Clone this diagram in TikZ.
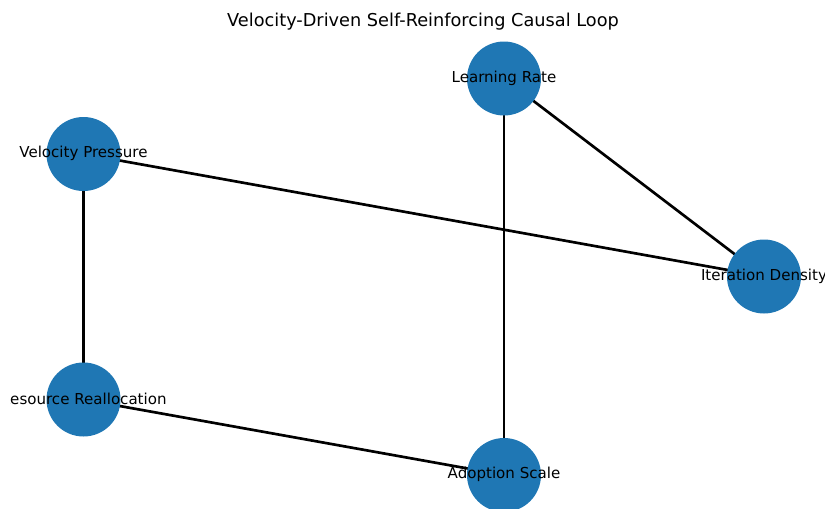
\documentclass[tikz,border=0pt]{standalone}
\usepackage{fontspec}
\setmainfont{DejaVu Sans}
\usetikzlibrary{backgrounds}
\definecolor{tabblue}{HTML}{1F77B4}
\tikzset{
  dot/.style={circle, fill=tabblue, minimum size=55.5pt, inner sep=0pt},
  lbl/.style={inner sep=0pt, text=black, font=\fontsize{11.3}{13}\selectfont},
  edge/.style={line width=2pt, black}
}

\begin{document}
\begin{tikzpicture}[x=0.75pt, y=-0.75pt]
	  \useasboundingbox (0, 0) rectangle (825, 508);
	  \clip (0, 0) rectangle (825, 508);
	  \node[lbl, font=\fontsize{13.3}{15}\selectfont] (title) at (423, 22)
	  {Velocity-Driven Self-Reinforcing Causal Loop};
	  % nodes
	  \node[dot] (lr) at (504, 78.5) {};
	  \node[dot] (vp) at (83.5, 154) {};
	  \node[dot] (id) at (764, 276.5) {};
	  \node[dot] (rr) at (83.5, 399.5) {};
	  \node[dot] (as) at (504, 475) {};
	  \begin{scope}
		\clip (10.5, 0) rectangle (825, 508);
		\node[lbl] (lrt) at (504, 78) {Learning Rate};
		\node[lbl] (vpt) at (83.5, 153.5) {Velocity Pressure};
		\node[lbl] (idt) at (764, 276) {Iteration Density};
		\node[lbl] (rrt) at (83.5, 399) {Resource Reallocation};
		\node[lbl] (ast) at (504, 474.5) {Adoption Scale};
	  \end{scope}
	  % links
	  \begin{scope}[on background layer]
		\draw[edge] (vp.center) -- (id.center);
		\draw[edge] (lr.center) -- (id.center);
		\draw[edge] (lr.center) -- (as.center);
		\draw[edge] (vp.center) -- (rr.center);
		\draw[edge] (rr.center) -- (as.center);
	  \end{scope}
	\end{tikzpicture}
\end{document}
